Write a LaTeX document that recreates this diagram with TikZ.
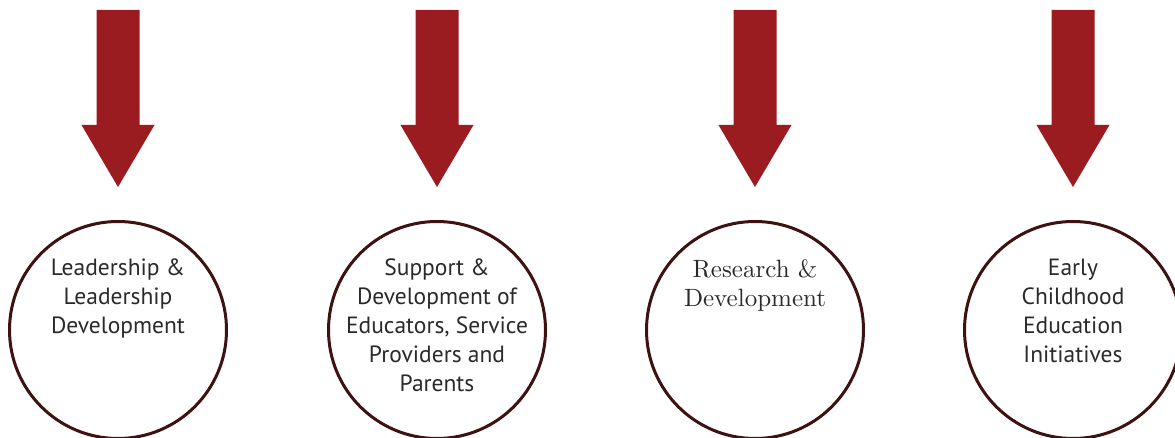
\documentclass[tikz,border=0pt]{standalone}
\usepackage{fontspec}
\newfontfamily\labelsans{PT Sans}
\newfontfamily\labelserif{lmroman10-regular}[Extension=.otf]
\definecolor{arrowred}{HTML}{9A1B20}
\definecolor{ringbrown}{HTML}{3D1210}
\definecolor{inkgray}{HTML}{2B2A2A}
\begin{document}
\begin{tikzpicture}[x=1pt,y=-1pt,
  ring/.style={circle,draw=ringbrown,line width=3pt,fill=white,minimum size=217pt,inner sep=0pt},
  sanslabel/.style={anchor=north,align=center,inner sep=0pt,text=inkgray,
    font=\labelsans\fontsize{23.5}{29}\selectfont},
  seriflabel/.style={anchor=north,align=center,inner sep=0pt,text=inkgray,
    font=\labelserif\fontsize{25}{29}\selectfont},
  downarrow/.style={fill=arrowred}]
\useasboundingbox (0,0) rectangle (1175,438);

% down arrows: shaft 43 wide, head 73 wide, tip at y=187
\foreach \cx/\nm in {118/a1,437/a2,755/a3,1073/a4}{
  \coordinate (\nm) at (\cx,187);
  \fill[downarrow] (\cx-21.5,10) -- (\cx+21.5,10) -- (\cx+21.5,125) -- (\cx+36.5,125)
     -- (\nm) -- (\cx-36.5,125) -- (\cx-21.5,125) -- cycle;
}

% circles
\node[ring] (c1) at (118,330) {};
\node[ring] (c2) at (437,330) {};
\node[ring] (c3) at (755,330) {};
\node[ring] (c4) at (1073,330) {};

% labels
\node[sanslabel] (t1) at (118,259) {Leadership \&\\Leadership\\Development};
\node[sanslabel] (t2) at (437,259) {Support \&\\Development of\\Educators, Service\\Providers and\\Parents};
\node[seriflabel] (t3) at (755,259) {Research \&\\Development};
\node[sanslabel] (t4) at (1073,259) {Early\\Childhood\\Education\\Initiatives};
\end{tikzpicture}
\end{document}
